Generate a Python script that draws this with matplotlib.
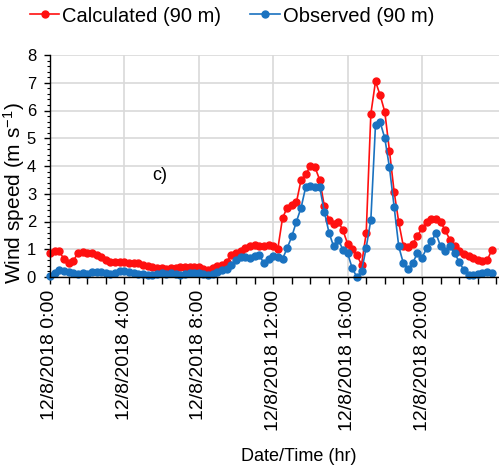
import numpy as np
import matplotlib
matplotlib.use('Agg')
from matplotlib import pyplot as plt
from matplotlib.ticker import MultipleLocator, FixedLocator

plt.rcParams['font.family'] = ['Liberation Sans', 'DejaVu Sans']
plt.rcParams['mathtext.fontset'] = 'custom'
plt.rcParams['mathtext.rm'] = 'Liberation Sans'
plt.rcParams['mathtext.default'] = 'regular'

# 15-minute samples, hours since midnight of 12/8/2018
hours = np.arange(96) * 0.25

calculated = [0.85, 0.95, 0.92, 0.65, 0.50, 0.58, 0.86, 0.90, 0.86, 0.85, 0.80, 0.73,
              0.62, 0.55, 0.55, 0.55, 0.55, 0.52, 0.52, 0.49, 0.45, 0.40, 0.35, 0.31,
              0.31, 0.30, 0.31, 0.34, 0.37, 0.36, 0.37, 0.37, 0.36, 0.30, 0.25, 0.33,
              0.38, 0.43, 0.55, 0.80, 0.88, 0.92, 1.04, 1.10, 1.15, 1.10, 1.12, 1.16,
              1.10, 1.02, 2.12, 2.50, 2.58, 2.70, 3.50, 3.70, 4.00, 3.95, 3.50, 2.55,
              2.05, 1.90, 2.00, 1.68, 1.20, 1.00, 0.78, 0.45, 1.58, 5.88, 7.05, 6.55,
              5.95, 4.55, 3.08, 1.97, 1.10, 1.08, 1.20, 1.48, 1.75, 1.98, 2.10, 2.10,
              1.98, 1.68, 1.34, 1.10, 0.92, 0.82, 0.74, 0.68, 0.62, 0.56, 0.60, 0.97]

observed = [0.03, 0.15, 0.24, 0.22, 0.18, 0.14, 0.12, 0.13, 0.12, 0.17, 0.19, 0.18,
            0.14, 0.12, 0.14, 0.22, 0.20, 0.18, 0.14, 0.12, 0.10, 0.07, 0.08, 0.12,
            0.13, 0.12, 0.13, 0.10, 0.07, 0.12, 0.13, 0.15, 0.16, 0.12, 0.07, 0.12,
            0.18, 0.25, 0.30, 0.42, 0.60, 0.72, 0.73, 0.70, 0.75, 0.78, 0.50, 0.65,
            0.75, 0.72, 0.65, 1.04, 1.46, 2.00, 2.50, 3.25, 3.29, 3.24, 3.24, 2.35,
            1.60, 1.10, 1.35, 0.98, 0.86, 0.31, 0.00, 0.20, 1.06, 2.06, 5.49, 5.58,
            5.00, 3.95, 2.54, 1.10, 0.49, 0.28, 0.50, 0.86, 0.70, 1.03, 1.28, 1.58,
            1.10, 0.92, 1.10, 0.86, 0.55, 0.25, 0.07, 0.07, 0.10, 0.15, 0.19, 0.15]

tick_hours = [0, 4, 8, 12, 16, 20]
tick_labels = ['12/8/2018 0:00', '12/8/2018 4:00', '12/8/2018 8:00',
               '12/8/2018 12:00', '12/8/2018 16:00', '12/8/2018 20:00']

red = '#ff1010'
blue = '#1a72c0'

fig = plt.figure(figsize=(4.99, 4.74), dpi=100)
ax = fig.add_axes([50/499, 1-277/474, 449/499, 222/474])

l1, = ax.plot(hours, calculated, color=red, lw=1.2, marker='o', ms=5,
              label='Calculated (90 m)', clip_on=False)
l2, = ax.plot(hours, observed, color=blue, lw=1.2, marker='o', ms=5,
              label='Observed (90 m)', clip_on=False)

ax.set_xlim(0, 449/18.6)
ax.set_ylim(0, 8)

ax.xaxis.set_major_locator(FixedLocator(tick_hours))
ax.set_xticklabels(tick_labels, rotation=90, fontsize=14)
ax.xaxis.set_minor_locator(MultipleLocator(1))
ax.set_yticks(range(9))
ax.yaxis.set_minor_locator(MultipleLocator(0.2))
ax.tick_params(axis='x', which='both', length=5, width=1, pad=4, direction='out')
ax.tick_params(axis='y', which='major', length=4, width=1, pad=6, labelsize=12)
ax.tick_params(axis='y', which='minor', length=2.5, width=0.8)

ax.grid(True, which='major', color='#d9d9d9', lw=1.2)
ax.set_axisbelow(True)
for s in ['top', 'right']:
    ax.spines[s].set_visible(False)
ax.spines['left'].set_linewidth(1)
ax.spines['bottom'].set_linewidth(1)

ax.set_ylabel('Wind speed (m s$^{-1}$)', fontsize=15)
ax.yaxis.set_label_coords((27-50)/449, (277-193)/222)
ax.set_xlabel('Date/Time (hr)', fontsize=13)
ax.xaxis.set_label_coords((299-50)/449, (277-448)/222)

ax.text(5.9, 3.65, 'c)', fontsize=13, ha='center', va='center')

fig.legend(handles=[l1, l2], loc='center left', bbox_to_anchor=(30/499, 1-16/474),
           ncol=2, frameon=False, fontsize=14.5, handlelength=1.45,
           handletextpad=0.15, columnspacing=1.45, borderpad=0, borderaxespad=0)

fig.savefig('out.png', dpi=100)
